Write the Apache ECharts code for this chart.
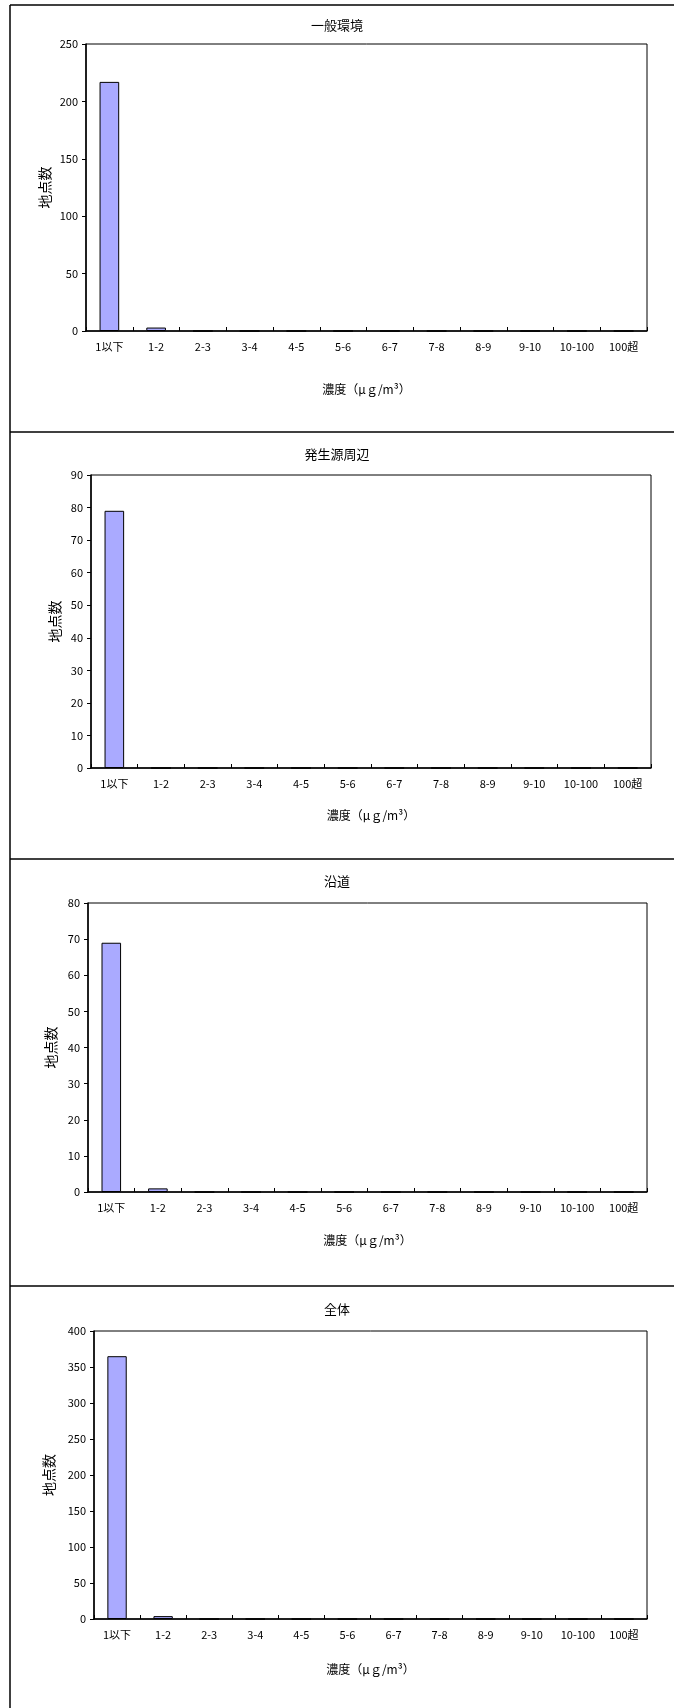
<!DOCTYPE html>
<html><head><meta charset="utf-8">
<script src="https://cdn.jsdelivr.net/npm/echarts@6/dist/echarts.min.js"></script>
<style>html,body{margin:0;padding:0;background:#fff}#c{width:674px;height:1708px}</style>
</head><body><div id="c"></div>
<script>
const categories = ['1以下','1-2','2-3','3-4','4-5','5-6','6-7','7-8','8-9','9-10','10-100','100超'];
const panelTitles = ['一般環境','発生源周辺','沿道','全体'];
const generalValues = [217,3,0,0,0,0,0,0,0,0,0,0];
const sourceValues = [79,0,0,0,0,0,0,0,0,0,0,0];
const roadsideValues = [69,1,0,0,0,0,0,0,0,0,0,0];
const totalValues = [365,4,0,0,0,0,0,0,0,0,0,0];
const yMax = [250,90,80,400];
const yInterval = [50,10,10,50];
const xName = '濃度（μｇ/m³）';
const yName = '地点数';

const seriesValues = [generalValues, sourceValues, roadsideValues, totalValues];
const FONT = '"Noto Sans CJK JP", sans-serif';
const grids = [
  {left:86, right:27, top:44, height:287},
  {left:91, right:23, top:475, height:293},
  {left:88, right:27, top:903, height:289},
  {left:94, right:27, top:1331, height:288}
];
const titleTops = [14, 443, 870, 1298];
const xNameGaps = [52, 41, 42, 44];
const yNameGaps = [34, 29, 30, 38];
const panelTops = [5, 432, 859, 1286];

const option = {
  animation:false,
  backgroundColor:'#fff',
  textStyle:{fontFamily:FONT},
  title: panelTitles.map((t,i)=>({text:t, left:'center', top:titleTops[i], textStyle:{fontFamily:FONT,fontSize:13,fontWeight:'normal',color:'#000'}})),
  grid: grids.map(g=>Object.assign({show:true, borderColor:'#000', borderWidth:1, backgroundColor:'#fff'}, g)),
  xAxis: grids.map((g,i)=>({
    type:'category', gridIndex:i, data:categories,
    name:xName, nameLocation:'middle', nameGap:xNameGaps[i], nameMoveOverlap:false,
    nameTextStyle:{fontFamily:FONT,fontSize:12,color:'#000'},
    axisLine:{lineStyle:{color:'#000',width:1.5}},
    axisTick:{show:true,inside:true,length:4,alignWithLabel:false,lineStyle:{color:'#000'}},
    axisLabel:{color:'#000',fontFamily:FONT,fontSize:11,margin:10,interval:0},
    splitLine:{show:false}
  })),
  yAxis: grids.map((g,i)=>({
    type:'value', gridIndex:i, min:0, max:yMax[i], interval:yInterval[i],
    name:yName, nameLocation:'middle', nameGap:yNameGaps[i], nameMoveOverlap:false,
    nameTextStyle:{fontFamily:FONT,fontSize:14,color:'#000'},
    axisLine:{show:true,lineStyle:{color:'#000',width:1.5}},
    axisTick:{show:true,inside:false,length:4,lineStyle:{color:'#000'}},
    axisLabel:{color:'#000',fontFamily:FONT,fontSize:11,margin:8},
    splitLine:{show:false}
  })),
  series: seriesValues.map((v,i)=>({
    type:'bar', xAxisIndex:i, yAxisIndex:i, data:v, barWidth:'42%',
    itemStyle:{color:'#AAAAFF', borderColor:'#000', borderWidth:1}
  })),
  graphic: [
    {type:'line', shape:{x1:10,y1:panelTops[0],x2:10,y2:1708}, style:{stroke:'#000',lineWidth:1.5}},
    ...panelTops.map(y=>({type:'line', shape:{x1:10,y1:y,x2:674,y2:y}, style:{stroke:'#000',lineWidth:1.5}}))
  ]
};
const chart = echarts.init(document.getElementById('c'));
chart.setOption(option);
</script></body></html>
